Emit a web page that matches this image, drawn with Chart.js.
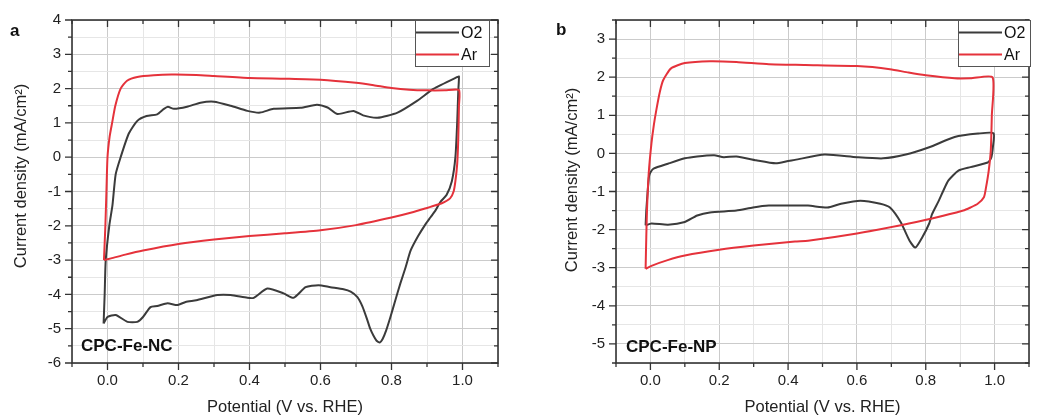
<!DOCTYPE html>
<html><head><meta charset="utf-8">
<script src="https://cdn.jsdelivr.net/npm/chart.js@4.4.1/dist/chart.umd.min.js"></script>
<style>
html,body{margin:0;padding:0;background:#fff;}
#wrap{position:relative;width:1038px;height:418px;overflow:hidden;background:#fff;}
canvas{position:absolute;top:0;}
#ca{left:0}
#cb{left:519px}
</style></head><body>
<div id="wrap"><canvas id="ca" width="519" height="418"></canvas><canvas id="cb" width="519" height="418"></canvas></div>
<script>
// ---------- Data (potential V vs. RHE, current density mA/cm2) ----------
const seriesNames = ['O2', 'Ar'];

// Panel a: CPC-Fe-NC
const aO2V = [-0.011,-0.008,-0.005,0.005,0.014,0.023,0.037,0.06,0.084,0.11,0.14,0.158,0.17,0.187,0.224,0.262,0.3,0.347,0.394,0.43,0.468,0.544,0.59,0.62,0.648,0.693,0.72,0.76,0.817,0.873,0.918,0.986,0.99,
  0.988,0.985,0.98,0.97,0.955,0.938,0.924,0.91,0.896,0.875,0.854,0.84,0.825,0.81,0.797,0.785,0.775,0.767,0.758,0.749,0.74,0.732,0.718,0.704,0.685,0.665,0.628,0.594,0.558,0.524,0.496,0.45,0.412,0.394,0.347,0.31,0.25,0.22,0.197,0.169,0.14,0.121,0.1,0.084,0.056,0.023,0.0,-0.011];
const aO2I = [-4.85,-4.0,-3.0,-2.0,-1.4,-0.5,0.0,0.69,1.06,1.2,1.25,1.4,1.47,1.41,1.47,1.59,1.62,1.5,1.35,1.3,1.41,1.44,1.53,1.45,1.26,1.35,1.22,1.15,1.3,1.65,1.99,2.34,2.35,
  1.9,1.0,0.0,-0.7,-1.1,-1.3,-1.55,-1.75,-1.95,-2.3,-2.72,-3.2,-3.68,-4.2,-4.66,-5.05,-5.3,-5.4,-5.35,-5.2,-5.0,-4.75,-4.35,-4.08,-3.92,-3.85,-3.79,-3.73,-3.79,-4.1,-3.97,-3.83,-4.1,-4.1,-4.02,-4.02,-4.17,-4.22,-4.31,-4.26,-4.34,-4.37,-4.66,-4.8,-4.8,-4.6,-4.66,-4.85];
const aArV = [-0.01,-0.006,-0.003,0.0,0.006,0.013,0.022,0.037,0.055,0.084,0.13,0.18,0.25,0.3,0.4,0.5,0.6,0.7,0.75,0.8,0.85,0.9,0.95,0.99,
  0.99,0.988,0.985,0.98,0.975,0.965,0.94,0.915,0.9,0.862,0.8,0.7,0.6,0.5,0.4,0.3,0.2,0.1,0.05,0.01,-0.01];
const aArI = [-3.0,-2.0,-1.0,0.0,0.6,1.0,1.5,2.0,2.23,2.34,2.39,2.41,2.40,2.37,2.31,2.29,2.26,2.17,2.1,2.02,1.97,1.95,1.95,1.96,
  1.5,0.5,-0.2,-0.7,-1.0,-1.2,-1.35,-1.43,-1.48,-1.6,-1.76,-1.98,-2.13,-2.22,-2.3,-2.4,-2.53,-2.72,-2.84,-2.95,-3.0];

// Panel b: CPC-Fe-NP
const bO2V = [-0.014,-0.012,-0.008,-0.004,0.0,0.009,0.051,0.1,0.136,0.185,0.213,0.25,0.307,0.364,0.4,0.42,0.506,0.6,0.676,0.742,0.81,0.884,0.952,0.997,
  0.995,0.99,0.98,0.93,0.895,0.866,0.85,0.838,0.818,0.81,0.79,0.77,0.753,0.727,0.696,0.668,0.61,0.554,0.514,0.458,0.4,0.344,0.298,0.25,0.173,0.136,0.1,0.051,0.003,-0.014];
const bO2I = [-1.89,-1.5,-1.0,-0.6,-0.5,-0.4,-0.27,-0.13,-0.08,-0.05,-0.1,-0.08,-0.18,-0.26,-0.2,-0.17,-0.03,-0.1,-0.13,-0.03,0.16,0.43,0.52,0.53,
  0.16,-0.12,-0.24,-0.36,-0.45,-0.71,-1.0,-1.24,-1.6,-1.84,-2.2,-2.47,-2.29,-1.8,-1.42,-1.32,-1.24,-1.32,-1.42,-1.37,-1.37,-1.37,-1.42,-1.5,-1.55,-1.63,-1.8,-1.87,-1.84,-1.89];
const bArV = [-0.014,-0.012,-0.01,-0.005,0.003,0.01,0.017,0.027,0.037,0.06,0.1,0.173,0.25,0.344,0.45,0.6,0.696,0.75,0.8,0.884,0.93,0.994,
  0.992,0.989,0.983,0.975,0.969,0.95,0.93,0.909,0.818,0.724,0.6,0.458,0.42,0.3,0.2,0.1,0.05,0.003,-0.014];
const bArI = [-3.03,-2.2,-1.5,-0.53,0.26,0.75,1.13,1.6,1.92,2.23,2.37,2.42,2.4,2.34,2.32,2.29,2.21,2.12,2.05,1.97,1.97,2.0,
  1.0,0.08,-0.45,-0.9,-1.15,-1.33,-1.42,-1.5,-1.71,-1.89,-2.1,-2.29,-2.31,-2.42,-2.53,-2.68,-2.8,-2.95,-3.03];

const xTickLabels = ['0.0','0.2','0.4','0.6','0.8','1.0'];
const aYTickLabels = ['-6','-5','-4','-3','-2','-1','0','1','2','3','4'];
const bYTickLabels = ['-5','-4','-3','-2','-1','0','1','2','3'];

// ---------- Styling ----------
const FONT = '"Liberation Sans", Arial, Helvetica, sans-serif';
const O2_COLOR = '#3b3b3b';
const AR_COLOR = '#e5323b';

function pts(xs, ys){ return xs.map((x,i)=>({x:x, y:ys[i]})); }

const decor = {
  id: 'decor',
  afterDraw(chart, args, o) {
    const ctx = chart.ctx, ca = chart.chartArea, xs = chart.scales.x, ys = chart.scales.y;
    ctx.save();
    ctx.strokeStyle = '#333';
    ctx.lineWidth = 1.6;
    ctx.strokeRect(ca.left, ca.top, ca.right - ca.left, ca.bottom - ca.top);
    ctx.lineWidth = 1.3;
    ctx.beginPath();
    xs.ticks.forEach(t => {
      const px = xs.getPixelForValue(t.value);
      const major = Math.abs(Math.round(t.value * 10)) % 2 === 0;
      const L = major ? 7 : 4;
      ctx.moveTo(px, ca.bottom); ctx.lineTo(px, ca.bottom + L);
      ctx.moveTo(px, ca.top); ctx.lineTo(px, ca.top + L);
    });
    ys.ticks.forEach(t => {
      const py = ys.getPixelForValue(t.value);
      const major = Math.abs(Math.round(t.value * 2)) % 2 === 0;
      const L = major ? 7 : 4;
      ctx.moveTo(ca.left, py); ctx.lineTo(ca.left - L, py);
      ctx.moveTo(ca.right, py); ctx.lineTo(ca.right - L, py);
    });
    ctx.stroke();

    const lg = o.legend;
    ctx.fillStyle = '#fff';
    ctx.fillRect(lg.x1, lg.y1, lg.x2 - lg.x1, lg.y2 - lg.y1);
    ctx.strokeStyle = '#555';
    ctx.lineWidth = 1;
    ctx.strokeRect(lg.x1 + 0.5, lg.y1 + 0.5, lg.x2 - lg.x1, lg.y2 - lg.y1);
    ctx.font = '16px ' + FONT;
    ctx.textBaseline = 'middle';
    ctx.textAlign = 'left';
    chart.data.datasets.forEach((ds, i) => {
      const yy = lg.y1 + 12.5 + i * 22;
      ctx.strokeStyle = ds.borderColor;
      ctx.lineWidth = 2;
      ctx.beginPath();
      ctx.moveTo(lg.x1 + 1, yy); ctx.lineTo(lg.x1 + 44, yy);
      ctx.stroke();
      ctx.fillStyle = '#111';
      ctx.fillText(ds.label, lg.x1 + 46, yy + 1);
    });

    ctx.fillStyle = '#111';
    ctx.font = 'bold 17px ' + FONT;
    ctx.fillText(o.letter, o.letterX, o.letterY);
    ctx.font = 'bold 17px ' + FONT;
    ctx.fillText(o.sample, o.sampleX, o.sampleY);
    ctx.font = '16.5px ' + FONT;
    ctx.fillStyle = '#222';
    ctx.translate(o.yTitleX, o.yTitleY);
    ctx.rotate(-Math.PI / 2);
    ctx.textAlign = 'center';
    ctx.fillText(o.yTitle, 0, 0);
    ctx.restore();
  }
};

function makeChart(id, o2V, o2I, arV, arI, yMin, yMax, yLabels, yAxisW, rightPad, deco) {
  return new Chart(document.getElementById(id), {
    type: 'scatter',
    data: {
      datasets: [
        { label: seriesNames[0], data: pts(o2V, o2I), borderColor: O2_COLOR, backgroundColor: O2_COLOR,
          showLine: true, pointRadius: 0, borderWidth: 2, tension: 0.2, order: 1 },
        { label: seriesNames[1], data: pts(arV, arI), borderColor: AR_COLOR, backgroundColor: AR_COLOR,
          showLine: true, pointRadius: 0, borderWidth: 2, tension: 0.2, order: 0 }
      ]
    },
    options: {
      responsive: false,
      animation: false,
      devicePixelRatio: 1,
      layout: { padding: { left: 0, right: rightPad, top: 19, bottom: 0 } },
      plugins: { legend: { display: false }, tooltip: { enabled: false }, decor: deco },
      scales: {
        x: {
          type: 'linear', min: -0.1, max: 1.1,
          afterFit: s => { s.height = 55; },
          ticks: {
            stepSize: 0.1, padding: 9, color: '#222', maxRotation: 0, autoSkip: false,
            font: { family: FONT, size: 15 },
            callback: v => { const k = Math.round(v * 10); return (k >= 0 && k <= 10 && k % 2 === 0) ? xTickLabels[k / 2] : ''; }
          },
          grid: {
            drawTicks: false,
            color: c => (Math.abs(Math.round(c.tick.value * 10)) % 2 === 0) ? '#cbcbcb' : '#e6e6e6',
            lineWidth: 1
          },
          border: { display: false },
          title: { display: true, text: 'Potential (V vs. RHE)', color: '#222',
                   font: { family: FONT, size: 16.5 }, padding: { top: 0, bottom: 1 } }
        },
        y: {
          type: 'linear', min: yMin, max: yMax,
          afterFit: s => { s.width = yAxisW; },
          ticks: {
            stepSize: 0.5, padding: 11, color: '#222', autoSkip: false,
            font: { family: FONT, size: 15 },
            callback: v => { const r = Math.round(v * 2); if (r % 2 !== 0) return ''; const idx = r / 2 - Math.ceil(yMin); return yLabels[idx] !== undefined ? yLabels[idx] : ''; }
          },
          grid: {
            drawTicks: false,
            color: c => (Math.abs(Math.round(c.tick.value * 2)) % 2 === 0) ? '#cbcbcb' : '#e6e6e6',
            lineWidth: 1
          },
          border: { display: false }
        }
      }
    },
    plugins: [decor]
  });
}

makeChart('ca', aO2V, aO2I, aArV, aArI, -6, 4, aYTickLabels, 72, 21, {
  letter: 'a', letterX: 10, letterY: 31,
  sample: 'CPC-Fe-NC', sampleX: 81, sampleY: 346,
  yTitle: 'Current density (mA/cm²)', yTitleX: 21, yTitleY: 176,
  legend: { x1: 415, x2: 489, y1: 20, y2: 66 }
});
makeChart('cb', bO2V, bO2I, bArV, bArI, -5.5, 3.5, bYTickLabels, 97, 1, {
  letter: 'b', letterX: 37, letterY: 30,
  sample: 'CPC-Fe-NP', sampleX: 107, sampleY: 347,
  yTitle: 'Current density (mA/cm²)', yTitleX: 53, yTitleY: 180,
  legend: { x1: 439, x2: 511, y1: 20, y2: 66 }
});
</script>
</body></html>
